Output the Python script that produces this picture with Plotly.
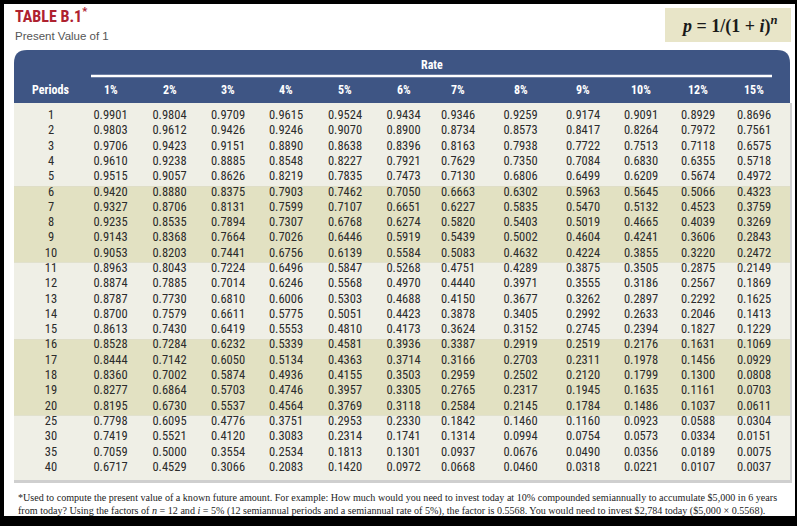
import plotly.graph_objects as go

# ---------------- data ----------------
periods = [1, 2, 3, 4, 5, 6, 7, 8, 9, 10, 11, 12, 13, 14, 15, 16, 17, 18, 19, 20, 25, 30, 35, 40]
rates = ["1%", "2%", "3%", "4%", "5%", "6%", "7%", "8%", "9%", "10%", "12%", "15%"]

pv_1 = [0.9901, 0.9803, 0.9706, 0.9610, 0.9515, 0.9420, 0.9327, 0.9235, 0.9143, 0.9053, 0.8963, 0.8874,
        0.8787, 0.8700, 0.8613, 0.8528, 0.8444, 0.8360, 0.8277, 0.8195, 0.7798, 0.7419, 0.7059, 0.6717]
pv_2 = [0.9804, 0.9612, 0.9423, 0.9238, 0.9057, 0.8880, 0.8706, 0.8535, 0.8368, 0.8203, 0.8043, 0.7885,
        0.7730, 0.7579, 0.7430, 0.7284, 0.7142, 0.7002, 0.6864, 0.6730, 0.6095, 0.5521, 0.5000, 0.4529]
pv_3 = [0.9709, 0.9426, 0.9151, 0.8885, 0.8626, 0.8375, 0.8131, 0.7894, 0.7664, 0.7441, 0.7224, 0.7014,
        0.6810, 0.6611, 0.6419, 0.6232, 0.6050, 0.5874, 0.5703, 0.5537, 0.4776, 0.4120, 0.3554, 0.3066]
pv_4 = [0.9615, 0.9246, 0.8890, 0.8548, 0.8219, 0.7903, 0.7599, 0.7307, 0.7026, 0.6756, 0.6496, 0.6246,
        0.6006, 0.5775, 0.5553, 0.5339, 0.5134, 0.4936, 0.4746, 0.4564, 0.3751, 0.3083, 0.2534, 0.2083]
pv_5 = [0.9524, 0.9070, 0.8638, 0.8227, 0.7835, 0.7462, 0.7107, 0.6768, 0.6446, 0.6139, 0.5847, 0.5568,
        0.5303, 0.5051, 0.4810, 0.4581, 0.4363, 0.4155, 0.3957, 0.3769, 0.2953, 0.2314, 0.1813, 0.1420]
pv_6 = [0.9434, 0.8900, 0.8396, 0.7921, 0.7473, 0.7050, 0.6651, 0.6274, 0.5919, 0.5584, 0.5268, 0.4970,
        0.4688, 0.4423, 0.4173, 0.3936, 0.3714, 0.3503, 0.3305, 0.3118, 0.2330, 0.1741, 0.1301, 0.0972]
pv_7 = [0.9346, 0.8734, 0.8163, 0.7629, 0.7130, 0.6663, 0.6227, 0.5820, 0.5439, 0.5083, 0.4751, 0.4440,
        0.4150, 0.3878, 0.3624, 0.3387, 0.3166, 0.2959, 0.2765, 0.2584, 0.1842, 0.1314, 0.0937, 0.0668]
pv_8 = [0.9259, 0.8573, 0.7938, 0.7350, 0.6806, 0.6302, 0.5835, 0.5403, 0.5002, 0.4632, 0.4289, 0.3971,
        0.3677, 0.3405, 0.3152, 0.2919, 0.2703, 0.2502, 0.2317, 0.2145, 0.1460, 0.0994, 0.0676, 0.0460]
pv_9 = [0.9174, 0.8417, 0.7722, 0.7084, 0.6499, 0.5963, 0.5470, 0.5019, 0.4604, 0.4224, 0.3875, 0.3555,
        0.3262, 0.2992, 0.2745, 0.2519, 0.2311, 0.2120, 0.1945, 0.1784, 0.1160, 0.0754, 0.0490, 0.0318]
pv_10 = [0.9091, 0.8264, 0.7513, 0.6830, 0.6209, 0.5645, 0.5132, 0.4665, 0.4241, 0.3855, 0.3505, 0.3186,
         0.2897, 0.2633, 0.2394, 0.2176, 0.1978, 0.1799, 0.1635, 0.1486, 0.0923, 0.0573, 0.0356, 0.0221]
pv_12 = [0.8929, 0.7972, 0.7118, 0.6355, 0.5674, 0.5066, 0.4523, 0.4039, 0.3606, 0.3220, 0.2875, 0.2567,
         0.2292, 0.2046, 0.1827, 0.1631, 0.1456, 0.1300, 0.1161, 0.1037, 0.0588, 0.0334, 0.0189, 0.0107]
pv_15 = [0.8696, 0.7561, 0.6575, 0.5718, 0.4972, 0.4323, 0.3759, 0.3269, 0.2843, 0.2472, 0.2149, 0.1869,
         0.1625, 0.1413, 0.1229, 0.1069, 0.0929, 0.0808, 0.0703, 0.0611, 0.0304, 0.0151, 0.0075, 0.0037]

columns = [pv_1, pv_2, pv_3, pv_4, pv_5, pv_6, pv_7, pv_8, pv_9, pv_10, pv_12, pv_15]

title_text = "TABLE B.1<sup>*</sup>"
subtitle_text = "Present Value of 1"
formula_text = "<i>p</i> = 1/(1 + <i>i</i>)<sup><i>n</i></sup>"
footnote_lines = [
    "*Used to compute the present value of a known future amount. For example: How much would you need to invest today at 10% compounded semiannually to accumulate $5,000 in 6 years",
    "from today? Using the factors of <i>n</i> = 12 and <i>i</i> = 5% (12 semiannual periods and a semiannual rate of 5%), the factor is 0.5568. You would need to invest $2,784 today ($5,000 \u00d7 0.5568).",
]

# ---------------- layout constants (pixel-like axis units) ----------------
W, H = 797, 526
col_x = [110.5, 169.5, 228, 286, 345, 403.5, 458, 520.5, 583, 641, 698, 754]
period_x = 51
row_y0, row_dy = 116.0, 15.29
row_y = [row_y0 + k * row_dy for k in range(len(periods))]

BLUE = "#3e5584"
LIGHT = "#efefe6"
DARK = "#e2e1c2"
TEXT = "#2b2b2b"
NUM_FONT = "Liberation Sans Narrow, Roboto Condensed, Liberation Sans, Arial"

fig = go.Figure()

shapes = []
# black frame
shapes.append(dict(type="rect", x0=0, x1=W, y0=0, y1=H, fillcolor="black", line_width=0, layer="below"))
shapes.append(dict(type="rect", x0=4, x1=W - 2, y0=4, y1=516, fillcolor="white", line_width=0, layer="below"))
# formula box
shapes.append(dict(type="rect", x0=665, x1=791, y0=8, y1=42, fillcolor="#e8e5c8", line_width=0, layer="below"))
# header rounded panel
r = 13
x0, x1, yt, yb = 14, 790, 50, 103
shapes.append(dict(type="path",
                   path=f"M{x0},{yb} L{x0},{yt + r} Q{x0},{yt} {x0 + r},{yt} L{x1 - r},{yt} Q{x1},{yt} {x1},{yt + r} L{x1},{yb} Z",
                   fillcolor=BLUE, line_width=0, layer="below"))
# white rule under "Rate"
shapes.append(dict(type="line", x0=91, x1=772, y0=76, y1=76, line=dict(color="white", width=2.5), layer="below"))
# shadow under body
shapes.append(dict(type="rect", x0=14, x1=792, y0=103, y1=483, fillcolor="#cfcfcf", line_width=0, layer="below"))

# row bands (groups of 5 rows)
groups = [(0, 4), (5, 9), (10, 14), (15, 19), (20, 23)]
for gi, (a, b) in enumerate(groups):
    top = yb if a == 0 else (row_y[a - 1] + row_y[a]) / 2 + 1.5
    bot = 480 if b == len(periods) - 1 else (row_y[b] + row_y[b + 1]) / 2 + 1.5
    shapes.append(dict(type="rect", x0=14, x1=790, y0=top, y1=bot,
                       fillcolor=LIGHT if gi % 2 == 0 else DARK, line_width=0, layer="below"))

NUM_SIZE = 12.5
# period labels
fig.add_trace(go.Scatter(x=[period_x] * len(periods), y=row_y, mode="text",
                         text=[str(p) for p in periods], textposition="middle center",
                         textfont=dict(family=NUM_FONT, size=NUM_SIZE, color=TEXT),
                         hoverinfo="skip", showlegend=False))
# values
for cx, vals in zip(col_x, columns):
    fig.add_trace(go.Scatter(x=[cx] * len(vals), y=row_y, mode="text",
                             text=[f"{v:.4f}" for v in vals], textposition="middle center",
                             textfont=dict(family=NUM_FONT, size=NUM_SIZE, color=TEXT),
                             hoverinfo="skip", showlegend=False))

ann = []
HDR_FONT = dict(family=NUM_FONT, size=12, color="white")
ann.append(dict(x=50, y=90, text="<b>Periods</b>", showarrow=False, font=HDR_FONT, xanchor="center", yanchor="middle"))
for cx, rt in zip(col_x, rates):
    ann.append(dict(x=cx, y=90, text=f"<b>{rt}</b>", showarrow=False, font=HDR_FONT, xanchor="center", yanchor="middle"))
ann.append(dict(x=432, y=65, text="<b>Rate</b>", showarrow=False, font=HDR_FONT, xanchor="center", yanchor="middle"))

ann.append(dict(x=13, y=15, text=f"<b>{title_text}</b>", showarrow=False, xanchor="left", yanchor="middle",
                font=dict(family=NUM_FONT, size=16, color="#ae2230")))
ann.append(dict(x=13, y=36, text=subtitle_text, showarrow=False, xanchor="left", yanchor="middle",
                font=dict(family="Liberation Sans, Arial", size=11.5, color="#555555")))
ann.append(dict(x=729, y=25, text=f"<b>{formula_text}</b>", showarrow=False, xanchor="center", yanchor="middle",
                font=dict(family="Liberation Serif, Times New Roman", size=18, color="#1a1a1a")))
for i, line in enumerate(footnote_lines):
    ann.append(dict(x=16, y=497 + i * 13.5, text=line, showarrow=False, xanchor="left", yanchor="middle",
                    font=dict(family="Liberation Serif, Times New Roman", size=10.1, color="#222222")))

fig.update_layout(
    width=W, height=H, margin=dict(l=0, r=0, t=0, b=0),
    paper_bgcolor="black", plot_bgcolor="white",
    shapes=shapes, annotations=ann,
    xaxis=dict(range=[0, W], visible=False, fixedrange=True),
    yaxis=dict(range=[H, 0], visible=False, fixedrange=True),
    showlegend=False,
)

fig.write_html("out.html", config=dict(displayModeBar=False),
               post_script="document.body.style.margin='0';document.body.style.overflow='hidden';")
